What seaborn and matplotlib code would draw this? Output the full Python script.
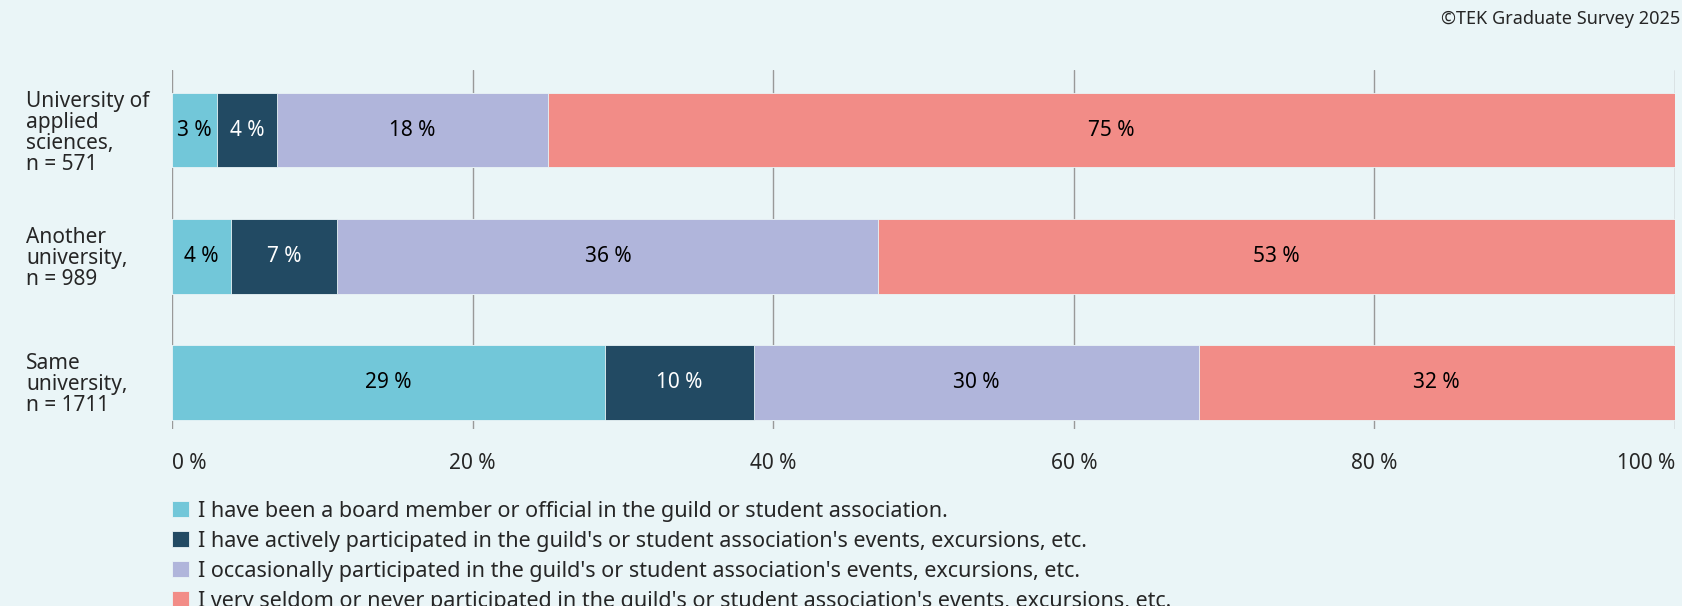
import numpy as np
import pandas as pd
import matplotlib.pyplot as plt
import matplotlib.transforms as mtransforms
import seaborn as sns

# Datos del gráfico (porcentajes por grupo)
grupos = ["University of\napplied\nsciences,\nn = 571",
          "Another\nuniversity,\nn = 989",
          "Same\nuniversity,\nn = 1711"]
respuestas = [
    "I have been a board member or official in the guild or student association.",
    "I have actively participated in the guild's or student association's events, excursions, etc.",
    "I occasionally participated in the guild's or student association's events, excursions, etc.",
    "I very seldom or never participated in the guild's or student association's events, excursions, etc.",
]
board_member = [3.0, 3.9, 28.8]
activo = [4.0, 7.1, 9.9]
ocasional = [18.0, 36.0, 29.6]
nunca = [75.0, 53.0, 31.7]
ticks_x = [0, 20, 40, 60, 80, 100]

colores = ["#72C7D9", "#224A63", "#B0B5DB", "#F28C87"]
color_texto = ["black", "white", "black", "black"]
fondo = "#EAF5F7"

sns.set_theme(style="white")
plt.rcParams["font.family"] = ["Noto Sans", "DejaVu Sans"]

df = pd.DataFrame({"grupo": grupos, respuestas[0]: board_member, respuestas[1]: activo,
                   respuestas[2]: ocasional, respuestas[3]: nunca})
valores = df[respuestas].to_numpy()
acumulado = valores.cumsum(axis=1)

fig = plt.figure(figsize=(16.82, 6.06), dpi=100, facecolor=fondo)
ax = fig.add_axes([0.1023, 0.292, 0.8935, 0.593], facecolor=fondo)

# Barras apiladas: se dibuja desde el total acumulado hacia la izquierda
for i in reversed(range(len(respuestas))):
    sns.barplot(x=acumulado[:, i], y=df["grupo"], color=colores[i], orient="h",
                width=0.59, edgecolor=fondo, linewidth=0.6, saturation=1,
                label=respuestas[i], ax=ax, zorder=3)
handles, labels = ax.get_legend_handles_labels()
if ax.get_legend() is not None:
    ax.get_legend().remove()

# Etiquetas en el centro de cada segmento
for fila in range(len(grupos)):
    for i in range(len(respuestas)):
        centro = acumulado[fila, i] - valores[fila, i] / 2
        ax.text(centro, fila, f"{round(valores[fila, i]):.0f} %", ha="center", va="center",
                fontsize=15, color=color_texto[i], zorder=4)

ax.set_xlim(0, 100)
ax.set_ylim(2.37, -0.48)
ax.set_xticks(ticks_x)
ax.set_xticklabels([f"{t} %" for t in ticks_x], fontsize=15)
etiquetas_x = ax.get_xticklabels()
etiquetas_x[0].set_ha("left")
etiquetas_x[-1].set_ha("right")
ax.tick_params(axis="x", length=0, pad=17)
ax.set_yticks([])
ax.set_xlabel("")
ax.set_ylabel("")
ax.grid(axis="x", color="#999999", linewidth=1, zorder=0)
for lado in ax.spines.values():
    lado.set_visible(False)

# Etiquetas de grupo alineadas a la izquierda
trans = mtransforms.blended_transform_factory(fig.transFigure, ax.transData)
for fila, nombre in enumerate(grupos):
    ax.text(26 / 1682, fila + 0.02, nombre, transform=trans, ha="left", va="center",
            fontsize=15, linespacing=1.0)

# Leyenda en el orden original
orden = [labels.index(r) for r in respuestas]
fig.legend([handles[k] for k in orden], respuestas, loc="upper left",
           bbox_to_anchor=(0.1025, 0.174), frameon=False, fontsize=15.5,
           handlelength=0.75, handleheight=0.75, handletextpad=0.45, labelspacing=0.42,
           borderaxespad=0, borderpad=0)

fig.text(0.999, 0.968, "©TEK Graduate Survey 2025", ha="right", va="center", fontsize=13)

fig.savefig("out.png", dpi=100, facecolor=fondo)
